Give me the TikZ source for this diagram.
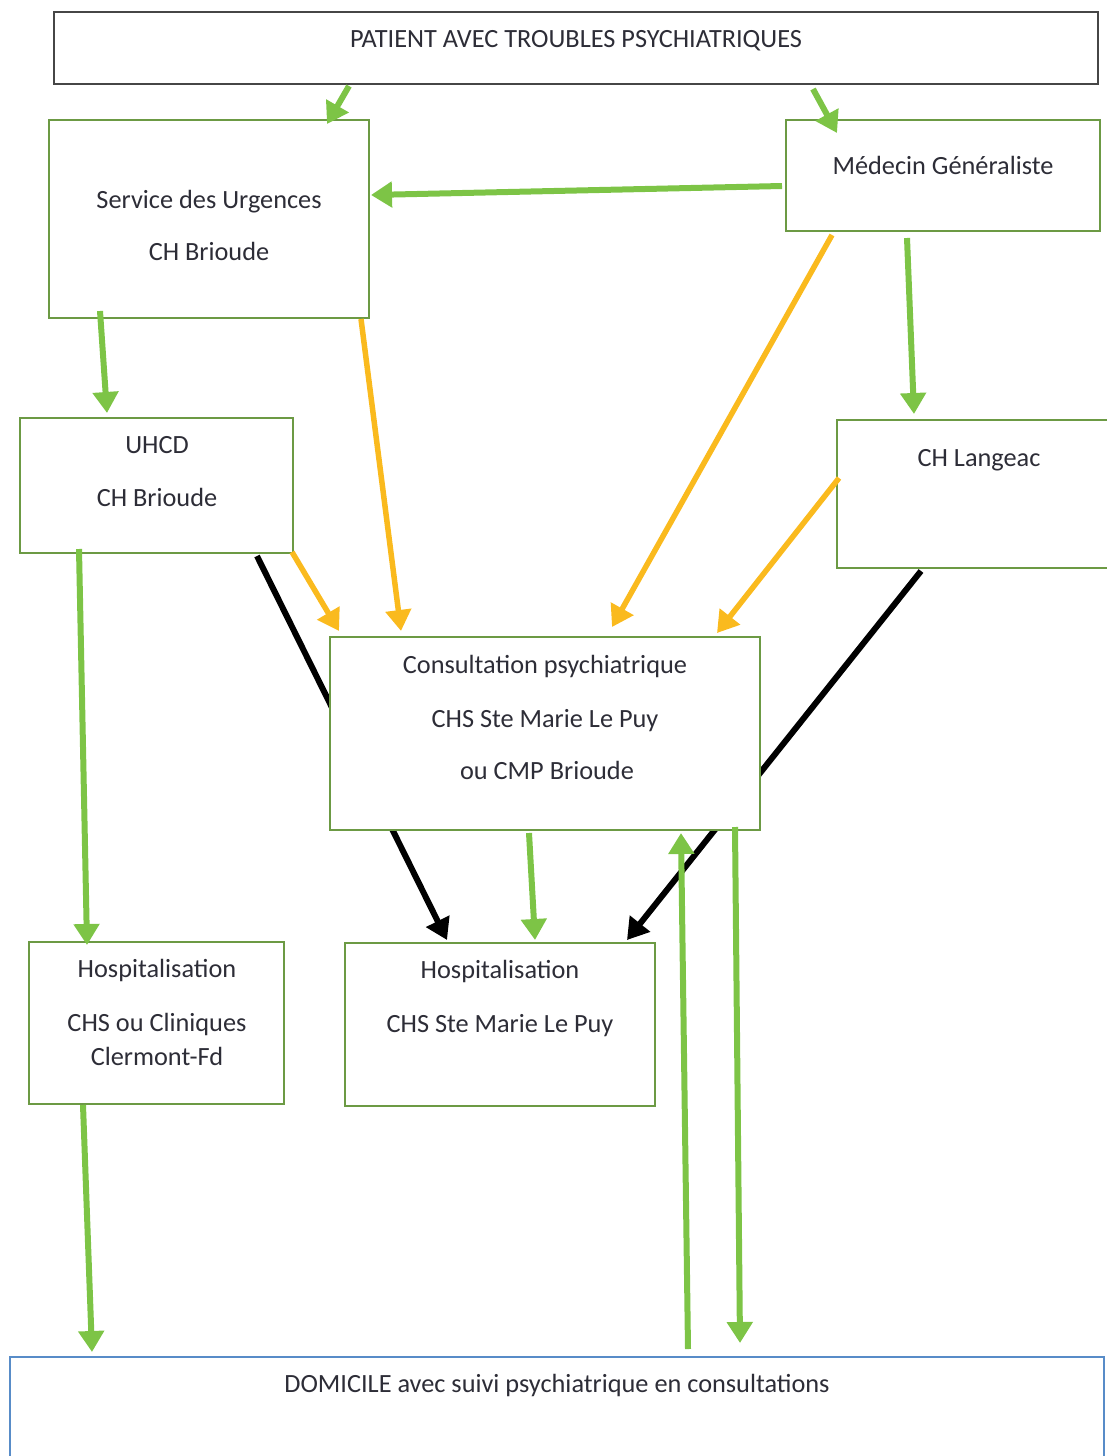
\documentclass[tikz,border=0pt]{standalone}
\usepackage{fontspec}
\setmainfont{Carlito}
\usetikzlibrary{arrows.meta,calc,backgrounds}

\definecolor{arrowgreen}{RGB}{125,196,70}
\definecolor{boxgreen}{RGB}{108,154,68}
\definecolor{arroworange}{RGB}{250,186,30}
\definecolor{boxblue}{RGB}{88,140,200}
\definecolor{boxgray}{RGB}{70,70,70}
\definecolor{inkgray}{RGB}{45,45,55}

\tikzset{
  box/.style={draw=boxgreen, line width=2pt, fill=white, inner sep=0pt},
  topbox/.style={box, draw=boxgray},
  homebox/.style={box, draw=boxblue},
  txt/.style={anchor=base, inner sep=0pt, text=inkgray,
              font=\fontsize{26.3}{31}\selectfont},
  tipstyle/.style={-{Triangle[length=21pt,width=25pt]}},
  greenarrow/.style={tipstyle, draw=arrowgreen, fill=arrowgreen, line width=6pt},
  orangearrow/.style={tipstyle, draw=arroworange, fill=arroworange, line width=5.5pt},
  blackarrow/.style={tipstyle, draw=black, fill=black, line width=6pt},
}

\begin{document}
\begin{tikzpicture}[x=1pt, y=-1pt]
\useasboundingbox (0,0) rectangle (1107,1456);

% boxes
\node[topbox, minimum width=1044pt, minimum height=72pt] (pat) at (576,48) {};
\node[box, minimum width=320pt, minimum height=198pt] (urg) at (209,219) {};
\node[box, minimum width=314pt, minimum height=111pt] (med) at (943,175.5) {};
\node[box, minimum width=273pt, minimum height=135pt] (uhcd) at (156.5,485.5) {};
\node[box, minimum width=280pt, minimum height=148pt] (lan) at (977,494) {};
\node[box, minimum width=430pt, minimum height=193pt] (cons) at (545,733.5) {};
\node[box, minimum width=255pt, minimum height=162pt] (hl) at (156.5,1023) {};
\node[box, minimum width=310pt, minimum height=163pt] (hm) at (500,1024.5) {};
\node[homebox, minimum width=1094pt, minimum height=130pt] (dom) at (557,1422) {};

% texts
\node[txt] (tpat) at (576,47) {PATIENT AVEC TROUBLES PSYCHIATRIQUES};
\node[txt] (turg1) at (209,208) {Service des Urgences};
\node[txt] (turg2) at (209,260) {CH Brioude};
\node[txt] (tmed) at (943,174) {Médecin Généraliste};
\node[txt] (tuhcd1) at (157,453) {UHCD};
\node[txt] (tuhcd2) at (157,506) {CH Brioude};
\node[txt] (tlan) at (979,466) {CH Langeac};
\node[txt] (tcons1) at (545,673) {Consultation psychiatrique};
\node[txt] (tcons2) at (545,727) {CHS Ste Marie Le Puy};
\node[txt] (tcons3) at (547,779) {ou CMP Brioude};
\node[txt] (thl1) at (157,977) {Hospitalisation};
\node[txt] (thl2) at (157,1031) {CHS ou Cliniques};
\node[txt] (thl3) at (157,1065) {Clermont-Fd};
\node[txt] (thm1) at (500,978) {Hospitalisation};
\node[txt] (thm2) at (500,1032) {CHS Ste Marie Le Puy};
\node[txt] (tdom) at (557,1392) {DOMICILE avec suivi psychiatrique en consultations};

% black arrows run behind the consultation box
\begin{pgfonlayer}{background}
\draw[blackarrow] ($(uhcd.south east)+(-37,2)$) -- ($(hm.north west)+(103,-2)$);
\draw[blackarrow] ($(lan.south west)+(85,2)$) -- ($(hm.north east)+(-29,-2)$);
\end{pgfonlayer}

% green arrows
\draw[greenarrow] ($(pat.south west)+(296,1)$) -- ($(urg.north west)+(279,5)$);
\draw[greenarrow] ($(pat.south east)+(-286,4)$) -- ($(med.north west)+(52,14)$);
\draw[greenarrow] ($(med.west)+(-3,10.5)$) -- ($(urg.east)+(1,-24)$);
\draw[greenarrow] ($(urg.south west)+(52,-8)$) -- ($(uhcd.north west)+(88,-4)$);
\draw[greenarrow] ($(med.south west)+(122,6)$) -- ($(lan.north west)+(78,-5)$);
\draw[greenarrow] ($(uhcd.south west)+(60,-5)$) -- ($(hl.north west)+(59,4)$);
\draw[greenarrow] ($(hl.south west)+(55,0)$) -- ($(dom.north west)+(83,-4)$);
\draw[greenarrow] ($(cons.south west)+(200,2)$) -- ($(hm.north west)+(191,-2)$);
\draw[greenarrow] ($(dom.north west)+(679,-7)$) -- ($(cons.south west)+(352,2)$);
\draw[greenarrow] ($(cons.south east)+(-26,-4)$) -- ($(dom.north west)+(731,-13)$);

% orange arrows
\draw[orangearrow] ($(urg.south east)+(-9,0)$) -- ($(cons.north west)+(72,-5)$);
\draw[orangearrow] ($(med.south west)+(47,3)$) -- ($(cons.north west)+(283,-9)$);
\draw[orangearrow] ($(lan.west)+(3,-16)$) -- ($(cons.north east)+(-44,-3)$);
\draw[orangearrow] ($(uhcd.south east)+(-2,-2)$) -- ($(cons.north west)+(10,-5)$);
\end{tikzpicture}
\end{document}
